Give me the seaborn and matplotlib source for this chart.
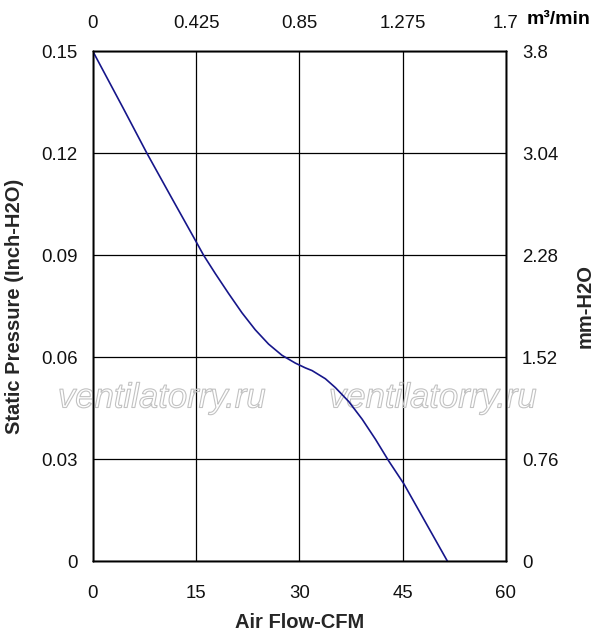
import matplotlib
matplotlib.use("Agg")
import matplotlib.pyplot as plt
import matplotlib.patheffects as pe
import seaborn as sns
import pandas as pd

# ---- data ----
cfm = [0, 4.45, 7.85, 11.49, 14.88, 16.08, 17.78, 19.72, 21.67, 23.6, 25.53,
       27.48, 29.42, 30.87, 31.85, 33.78, 35.23, 37.17, 39.12, 41.05, 42.98,
       45.17, 51.48]
pressure = [0.150, 0.1331, 0.1200, 0.1067, 0.0944, 0.0900, 0.0846, 0.0787,
            0.0730, 0.0680, 0.0638, 0.0605, 0.0582, 0.0568, 0.0560, 0.0536,
            0.0510, 0.0469, 0.0417, 0.0358, 0.0294, 0.0227, 0.0]

x_ticks = [0, 15, 30, 45, 60]
x_labels = ["0", "15", "30", "45", "60"]
y_ticks = [0, 0.03, 0.06, 0.09, 0.12, 0.15]
y_labels = ["0", "0.03", "0.06", "0.09", "0.12", "0.15"]
top_ticks = [0, 0.425, 0.85, 1.275, 1.7]
top_labels = ["0", "0.425", "0.85", "1.275", "1.7"]
right_ticks = [0, 0.76, 1.52, 2.28, 3.04, 3.8]
right_labels = ["0", "0.76", "1.52", "2.28", "3.04", "3.8"]

watermark = "ventilatorry.ru"

df = pd.DataFrame({"cfm": cfm, "pressure": pressure})

sns.set_style("white")
plt.rcParams["font.family"] = ["Liberation Sans", "DejaVu Sans"]

W, H = 597, 632
fig = plt.figure(figsize=(W / 100, H / 100), dpi=100)
left, right, top, bottom = 92.7, 506, 51, 561
ax = fig.add_axes([left / W, 1 - bottom / H, (right - left) / W, (bottom - top) / H])

sns.lineplot(data=df, x="cfm", y="pressure", ax=ax, color="#16168a",
             linewidth=1.2, estimator=None, sort=False, zorder=5)
ax.lines[0].set_solid_joinstyle("round")

ax.set_xlim(0, 60)
ax.set_ylim(0, 0.15)
ax.set_xticks(x_ticks)
ax.set_xticklabels(x_labels)
ax.set_yticks(y_ticks)
ax.set_yticklabels(y_labels)
ax.grid(True, color="black", linewidth=0.9)
ax.set_axisbelow(True)
for s in ax.spines.values():
    s.set_color("black")
    s.set_linewidth(1.0)
ax.tick_params(axis="x", length=0, pad=17, labelsize=13.4, colors="#111111")
ax.tick_params(axis="y", length=0, pad=11, labelsize=13.4, colors="#111111")

ax.set_xlabel("Air Flow-CFM", fontsize=14.5, fontweight="bold", va="top")
ax.xaxis.set_label_coords(0.5, (bottom - 613) / (bottom - top))
ax.set_ylabel("Static Pressure (Inch-H2O)", fontsize=14.5, fontweight="bold", va="center")
ax.yaxis.set_label_coords((15 - left) / (right - left), 0.5)

# top axis (m3/min)
axt = ax.twiny()
axt.set_xlim(0, 1.7)
axt.set_xticks(top_ticks)
axt.set_xticklabels(top_labels)
axt.tick_params(axis="x", length=0, pad=13.5, labelsize=13.4, colors="#111111")
axt.grid(False)

# right axis (mm-H2O)
axr = ax.twinx()
axr.set_ylim(0, 3.8)
axr.set_yticks(right_ticks)
axr.set_yticklabels(right_labels)
axr.tick_params(axis="y", length=0, pad=11.5, labelsize=13.4, colors="#111111")
axr.grid(False)
axr.set_ylabel("mm-H2O", fontsize=14.5, fontweight="bold", va="center", rotation=90)
axr.yaxis.set_label_coords((585 - left) / (right - left), 0.5)
for a in (axt, axr):
    for s in a.spines.values():
        s.set_color("black")
        s.set_linewidth(1.0)

ax.text((527 - left) / (right - left), (bottom - 24) / (bottom - top), "m³/min",
        transform=ax.transAxes, ha="left", va="baseline", fontsize=14,
        fontweight="bold", color="black")

# watermarks (outlined italic text)
for cx in (162, 433):
    ax.text((cx - left) / (right - left), (bottom - 398) / (bottom - top), watermark,
            transform=ax.transAxes, ha="center", va="center", fontsize=25,
            style="italic", color=(1, 1, 1, 0), zorder=4,
            path_effects=[pe.Stroke(linewidth=0.8, foreground="#c2c2c2")])

fig.savefig("out.png", dpi=100)
